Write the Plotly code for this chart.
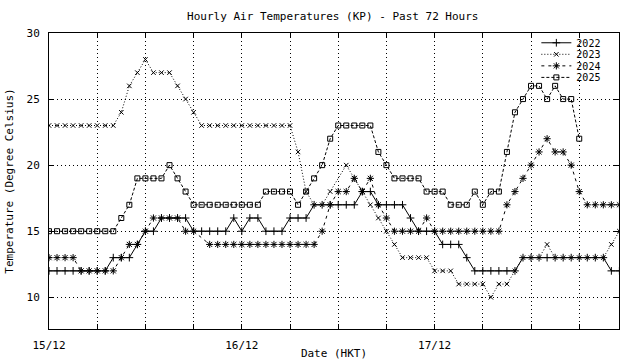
import plotly.graph_objects as go
import pandas as pd

# Hourly timestamps (72 hours)
times = pd.date_range("2025-12-15 00:00", periods=72, freq="h")

years = ["2022", "2023", "2024", "2025"]

t2022 = [12, 12, 12, 12, 12, 12, 12, 12, 13, 13, 13, 14, 15, 15, 16, 16, 16, 16,
         15, 15, 15, 15, 15, 16, 15, 16, 16, 15, 15, 15, 16, 16, 16, 17, 17, 17,
         17, 17, 17, 18, 18, 17, 17, 17, 17, 16, 15, 15, 15, 14, 14, 14, 13, 12,
         12, 12, 12, 12, 12, 13, 13, 13, 13, 13, 13, 13, 13, 13, 13, 13, 12, 12]

t2023 = [23, 23, 23, 23, 23, 23, 23, 23, 23, 24, 26, 27, 28, 27, 27, 27, 26, 25,
         24, 23, 23, 23, 23, 23, 23, 23, 23, 23, 23, 23, 23, 21, 18, 17, 17, 18,
         None, 20, 19, 18, 17, 16, 15, 14, 13, 13, 13, 13, 12, 12, 12, 11, 11, 11,
         11, 10, 11, 11, 12, 13, 13, 13, 14, 13, 13, 13, 13, 13, 13, 13, 14, 15]

t2024 = [13, 13, 13, 13, 12, 12, 12, 12, 12, 13, 14, 14, 15, 16, 16, 16, 16, 15,
         15, None, 14, 14, 14, 14, 14, 14, 14, 14, 14, 14, 14, 14, 14, 14, 15, 17,
         18, 18, 19, 18, 19, 17, 16, 15, 15, 15, 15, 16, 15, 15, 15, 15, 15, 15,
         15, 15, 15, 17, 18, 19, 20, 21, 22, 21, 21, 20, 18, 17, 17, 17, 17, 17]

t2025 = [15, 15, 15, 15, 15, 15, 15, 15, 15, 16, 17, 19, 19, 19, 19, 20, 19, 18,
         17, 17, 17, 17, 17, 17, 17, 17, 17, 18, 18, 18, 18, 17, 18, 19, 20, 22,
         23, 23, 23, 23, 23, 21, 20, 19, 19, 19, 19, 18, 18, 18, 17, 17, 17, 18,
         17, 18, 18, 21, 24, 25, 26, 26, 25, 26, 25, 25, 22, None, None, None, None, None]

day_ticks = ["15/12", "16/12", "17/12"]

series = [t2022, t2023, t2024, t2025]
symbols = ["cross-thin-open", "x-thin-open", "asterisk-open", "square-open"]
msizes = [5.5, 4.5, 6, 5]
dashes = ["solid", "1px,2px", "3px,4px", "3px,2px"]
legend_ids = ["legend", "legend2", "legend3", "legend4"]

fig = go.Figure()
for name, vals, sym, ms, dash, lg in zip(years, series, symbols, msizes, dashes, legend_ids):
    fig.add_trace(go.Scatter(
        x=times, y=vals, name=name, mode="lines+markers", connectgaps=True,
        line=dict(color="black", width=1, dash=dash),
        marker=dict(symbol=sym, size=ms, color="black", line=dict(color="black", width=1)),
        legend=lg,
    ))

font = dict(family="DejaVu Sans Mono", size=11, color="black")
lfont = dict(family="DejaVu Sans Mono", size=10, color="black")

fig.update_layout(
    width=640, height=360,
    margin=dict(l=49, r=21, t=33, b=31, autoexpand=False),
    paper_bgcolor="white", plot_bgcolor="white",
    font=font,
    title=dict(text="Hourly Air Temperatures (KP) - Past 72 Hours", x=0.52, xanchor="center",
               y=1 - 16 / 360, yanchor="middle", font=font, automargin=False),
    showlegend=True,
)

leg_y = [0.967, 0.928, 0.889, 0.850]
for lg, yy in zip(legend_ids, leg_y):
    fig.update_layout({lg: dict(x=0.855, xanchor="left", y=yy, yanchor="middle",
                                bgcolor="rgba(0,0,0,0)", borderwidth=0, font=lfont,
                                itemwidth=30, tracegroupgap=0)})

fig.update_xaxes(
    range=[times[0], pd.Timestamp("2025-12-17 22:57")],
    tickvals=[times[0], times[24], times[48]], ticktext=day_ticks,
    ticks="inside", ticklen=5, tickcolor="black",
    showline=True, linecolor="black", linewidth=1, mirror="allticks",
    showgrid=True, gridcolor="black", griddash="1px,3px", gridwidth=1,
    minor=dict(dtick=6 * 3600 * 1000, tick0=times[0], ticks="inside", ticklen=5,
               tickcolor="black", showgrid=True, gridcolor="black", griddash="1px,3px"),
    zeroline=False, ticklabelstandoff=6, automargin=False,
    title=dict(text="Date (HKT)", font=font, standoff=3),
)
fig.update_yaxes(
    range=[7.6, 30], tickvals=[10, 15, 20, 25, 30],
    ticks="inside", ticklen=5, tickcolor="black",
    showline=True, linecolor="black", linewidth=1, mirror="allticks",
    showgrid=True, gridcolor="black", griddash="1px,3px", gridwidth=1,
    zeroline=False, ticklabelstandoff=6, automargin=False,
    title=dict(text="Temperature (Degree Celsius)", font=font, standoff=10),
)

fig.write_html("out.html", config={"displayModeBar": False},
               post_script="document.body.style.margin='0';")
